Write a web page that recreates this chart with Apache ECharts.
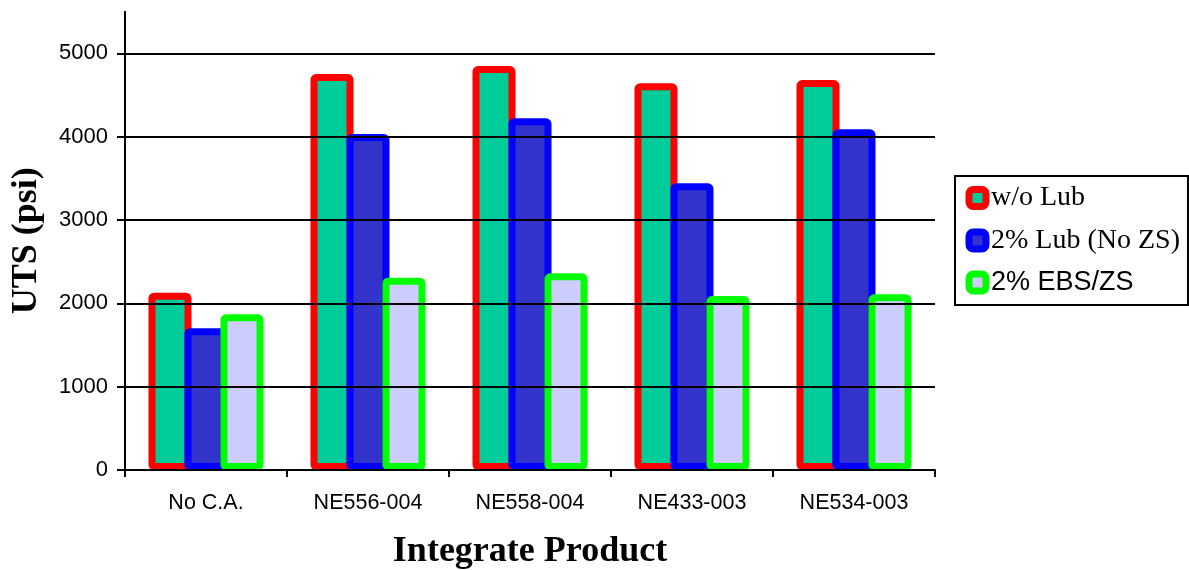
<!DOCTYPE html>
<html>
<head>
<meta charset="utf-8">
<script src="https://cdn.jsdelivr.net/npm/echarts@6/dist/echarts.min.js"></script>
<style>
html,body{margin:0;padding:0;background:#fff;}
#chart{width:1189px;height:570px;}
</style>
</head>
<body>
<div id="chart"></div>
<script>
const categories = ['No C.A.', 'NE556-004', 'NE558-004', 'NE433-003', 'NE534-003'];
const seriesNames = ['w/o Lub', '2% Lub (No ZS)', '2% EBS/ZS'];
const woLub = [2128, 4752, 4848, 4640, 4680];
const lub2 = [1700, 4032, 4220, 3440, 4088];
const ebsZs = [1868, 2308, 2360, 2088, 2108];
const yTicks = [0, 1000, 2000, 3000, 4000, 5000];

const fills = ['#00CC99', '#3333CC', '#CCCCFF'];
const borders = ['#FF0000', '#0000FF', '#00FF00'];
const legendFonts = ['ser', 'ser', 'san'];

const chart = echarts.init(document.getElementById('chart'));
const dataSets = [woLub, lub2, ebsZs];

chart.setOption({
  animation: false,
  backgroundColor: '#fff',
  grid: { left: 125, right: 254, top: 11.7, bottom: 100, containLabel: false, outerBoundsMode: 'none' },
  legend: {
    orient: 'vertical',
    left: 955,
    top: 176,
    padding: [8, 8, 9, 10.5],
    itemWidth: 17,
    itemHeight: 17,
    itemGap: 14.5,
    icon: 'roundRect',
    borderColor: '#000',
    borderWidth: 2,
    itemStyle: { borderWidth: 7 },
    data: seriesNames,
    formatter: function (name) {
      const i = seriesNames.indexOf(name);
      return '{' + legendFonts[i] + '|' + name + '}';
    },
    textStyle: {
      color: '#000',
      fontSize: 26,
      lineHeight: 26,
      rich: {
        ser: { fontFamily: 'Liberation Serif', fontSize: 28, lineHeight: 26, color: '#000' },
        san: { fontFamily: 'Liberation Sans', fontSize: 27, lineHeight: 26, color: '#000' }
      }
    }
  },
  xAxis: {
    type: 'category',
    data: categories,
    z: 10,
    axisLine: { show: true, lineStyle: { color: '#000', width: 2 } },
    axisTick: { show: true, length: 7, lineStyle: { color: '#000', width: 2 } },
    axisLabel: { fontSize: 21.5, fontFamily: 'Liberation Sans', color: '#000', margin: 22 },
    name: 'Integrate Product',
    nameLocation: 'middle',
    nameGap: 64,
    nameTextStyle: { fontSize: 36, fontFamily: 'Liberation Serif', fontWeight: 'bold', color: '#000' }
  },
  yAxis: {
    type: 'value',
    min: 0,
    max: 5500,
    interval: 1000,
    z: 10,
    axisLine: { show: true, lineStyle: { color: '#000', width: 2 } },
    axisTick: { show: true, length: 8, lineStyle: { color: '#000', width: 2 }, customValues: yTicks },
    axisLabel: {
      fontSize: 22, fontFamily: 'Liberation Sans', color: '#000', margin: 17, customValues: yTicks,
      formatter: function (v) { return String(v); }
    },
    splitLine: { show: true, lineStyle: { color: '#000', width: 2 } },
    name: 'UTS (psi)',
    nameLocation: 'middle',
    nameGap: 80,
    nameTextStyle: { fontSize: 36, fontFamily: 'Liberation Serif', fontWeight: 'bold', color: '#000' }
  },
  series: seriesNames.map(function (name, i) {
    return {
      name: name,
      type: 'bar',
      data: dataSets[i],
      barWidth: 43,
      barGap: '-16.28%',
      itemStyle: { color: fills[i], borderColor: borders[i], borderWidth: 7, borderRadius: 2 }
    };
  })
});
</script>
</body>
</html>
